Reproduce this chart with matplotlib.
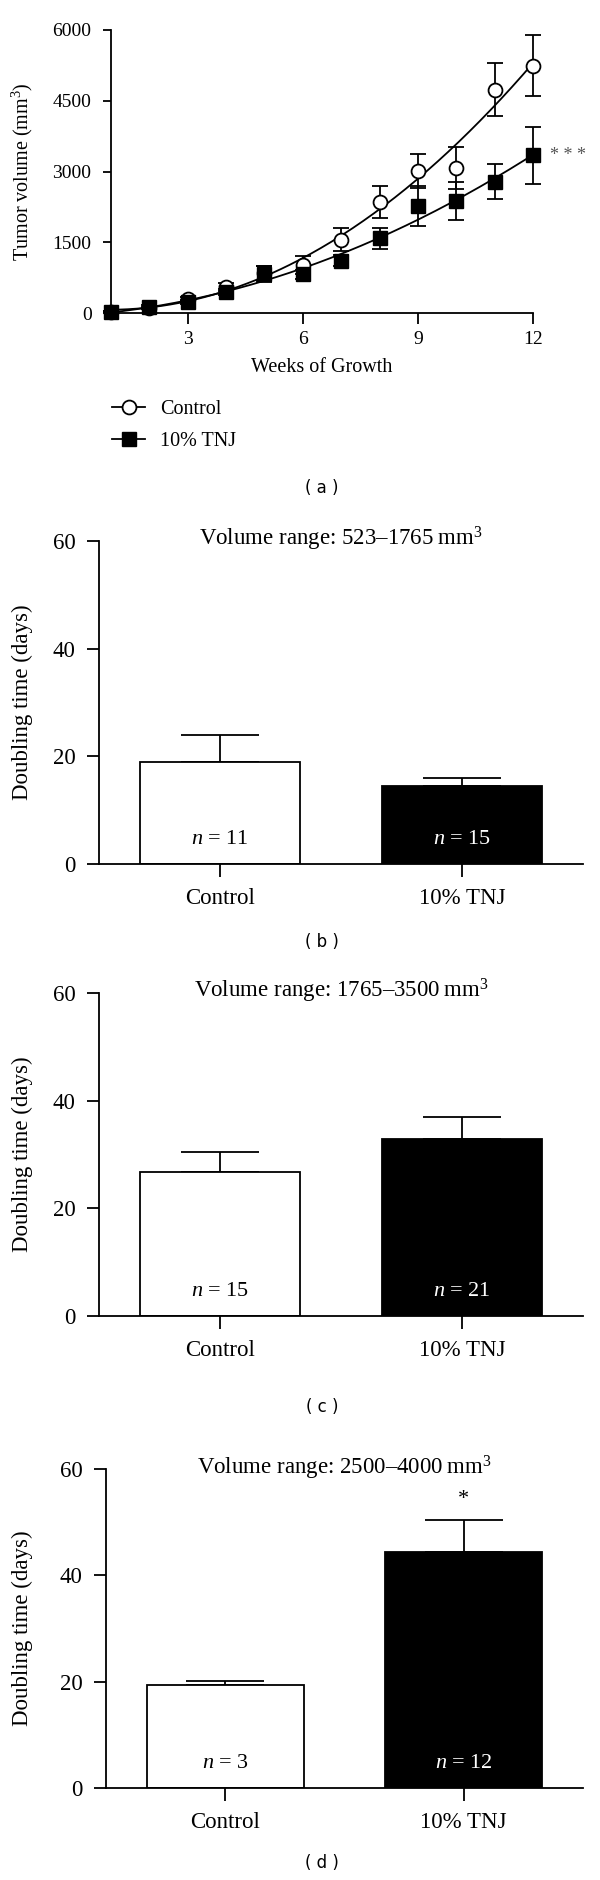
import numpy as np
import matplotlib
matplotlib.use("Agg")
import matplotlib.pyplot as plt

# ---------------- data ----------------
weeks = [1, 2, 3, 4, 5, 6, 7, 8, 9, 10, 11, 12]
control_vol = [30, 100, 290, 550, 850, 1010, 1555, 2353, 3017, 3074, 4735, 5244]
control_err = [10, 20, 40, 90, 140, 190, 250, 340, 360, 440, 560, 650]
tnj_vol = [30, 130, 240, 440, 820, 820, 1110, 1580, 2270, 2370, 2780, 3343]
tnj_err = [10, 30, 40, 60, 170, 100, 120, 220, 430, 400, 370, 600]

categories = ["Control", "10% TNJ"]
panel_titles = ["Volume range: 523\u20131765\u2009mm$^3$",
                "Volume range: 1765\u20133500\u2009mm$^3$",
                "Volume range: 2500\u20134000\u2009mm$^3$"]
bar_means = [[19.0, 14.4], [26.8, 32.8], [19.4, 44.4]]
bar_errs = [[5.0, 1.5], [3.7, 4.2], [0.7, 6.0]]
bar_n = [[11, 15], [15, 21], [3, 12]]
bar_sig = ["", "", "*"]
panel_letters = ["( a )", "( b )", "( c )", "( d )"]

# ---------------- style ----------------
plt.rcParams['font.family'] = ['Liberation Serif', 'DejaVu Serif']
plt.rcParams['mathtext.fontset'] = 'custom'
plt.rcParams['mathtext.rm'] = 'Liberation Serif'
plt.rcParams['mathtext.it'] = 'Liberation Serif:italic'
plt.rcParams['axes.linewidth'] = 1.3

W, H = 600, 1880
fig = plt.figure(figsize=(W / 100, H / 100), dpi=100)

def rect(left, right, top, bottom):
    return [left / W, 1 - bottom / H, (right - left) / W, (bottom - top) / H]

# ---------------- panel a ----------------
ax = fig.add_axes(rect(111, 533, 30, 313))
x = np.array(weeks, dtype=float)
xs = np.linspace(1, 12, 200)
c_fit = np.polyfit(x, control_vol, 2)
t_fit = np.polyfit(x, tnj_vol, 2)
ax.plot(xs, np.polyval(c_fit, xs), color='black', lw=1.3, zorder=2)
ax.plot(xs, np.polyval(t_fit, xs), color='black', lw=1.3, zorder=2)
ax.errorbar(weeks, control_vol, yerr=control_err, fmt='o', ms=10, mfc='white',
            mec='black', mew=1.3, ecolor='black', elinewidth=1.3, capsize=5.5,
            capthick=1.3, color='black', zorder=3, clip_on=False)
ax.errorbar(weeks, tnj_vol, yerr=tnj_err, fmt='s', ms=10, mfc='black',
            mec='black', ecolor='black', elinewidth=1.3, capsize=5.5,
            capthick=1.3, color='black', zorder=4, clip_on=False)
ax.set_xlim(1, 12)
ax.set_ylim(0, 6000)
ax.set_xticks([3, 6, 9, 12])
ax.set_yticks([0, 1500, 3000, 4500, 6000])
ax.spines['top'].set_visible(False)
ax.spines['right'].set_visible(False)
ax.tick_params(axis='x', direction='out', length=8, width=1.3, pad=5, labelsize=14)
ax.tick_params(axis='y', direction='out', length=6, width=1.3, pad=8, labelsize=14)
ax.set_xlabel("Weeks of Growth", fontsize=14.5)
ax.xaxis.set_label_coords(0.5, -0.16)
ax.set_ylabel("Tumor volume (mm$^3$)", fontsize=14.5)
ax.yaxis.set_label_coords(-0.18, 0.5)
ax.text(12.45, tnj_vol[-1], "* * *", fontsize=13, color='#555555',
        ha='left', va='center', clip_on=False)

# legend
h1, = ax.plot([], [], marker='o', ms=10, mfc='white', mec='black', mew=1.3,
              color='black', lw=1.3)
h2, = ax.plot([], [], marker='s', ms=10, mfc='black', mec='black',
              color='black', lw=1.3)
fig.legend([h1, h2], ["Control", "10% TNJ"], loc='upper left',
           bbox_to_anchor=(112 / W, 1 - 400 / H), frameon=False,
           fontsize=14.5, handlelength=1.65, handletextpad=0.75,
           labelspacing=0.65, borderpad=0, borderaxespad=0, markerscale=1.0)

# ---------------- bar panels ----------------
bar_rects = [rect(99, 583, 541, 864), rect(99, 583, 993, 1316),
             rect(106, 583, 1469, 1788)]
ylabel_x = [-0.136, -0.136, -0.153]
for i in range(3):
    bx = fig.add_axes(bar_rects[i])
    pos = np.arange(len(categories))
    bx.bar(pos, bar_means[i], width=0.66, color=['white', 'black'],
           edgecolor='black', linewidth=1.3, zorder=2)
    bx.errorbar(pos, bar_means[i], yerr=[[0, 0], bar_errs[i]], fmt='none',
                ecolor='black', elinewidth=1.3, capsize=28, capthick=1.3,
                zorder=1)
    for j in range(2):
        bx.text(pos[j], 4.6, "$\\mathit{n}$ = %d" % bar_n[i][j], ha='center',
                va='center', fontsize=16,
                color='black' if j == 0 else 'white', zorder=3)
    if bar_sig[i]:
        bx.text(pos[1], bar_means[i][1] + bar_errs[i][1] + 3.8, bar_sig[i],
                ha='center', va='center', fontsize=16)
    bx.text(0.5, 60.3, panel_titles[i], ha='center', va='center', fontsize=16.5,
            clip_on=False)
    bx.set_xlim(-0.5, 1.5)
    bx.set_ylim(0, 60)
    bx.set_yticks([0, 20, 40, 60])
    bx.set_xticks(pos)
    bx.set_xticklabels(categories)
    bx.spines['top'].set_visible(False)
    bx.spines['right'].set_visible(False)
    bx.tick_params(axis='x', direction='out', length=9, width=1.3, pad=8,
                   labelsize=16.5)
    bx.tick_params(axis='y', direction='out', length=9, width=1.3, pad=8,
                   labelsize=16.5)
    bx.set_ylabel("Doubling time (days)", fontsize=16.5)
    bx.yaxis.set_label_coords(ylabel_x[i], 0.5)

# ---------------- panel letters ----------------
letter_y = [488, 942, 1407, 1863]
for lab, yy in zip(panel_letters, letter_y):
    fig.text(322 / W, 1 - yy / H, lab, ha='center', va='center',
             fontsize=12, family='DejaVu Sans')

fig.savefig("out.png", dpi=100, facecolor='white')
